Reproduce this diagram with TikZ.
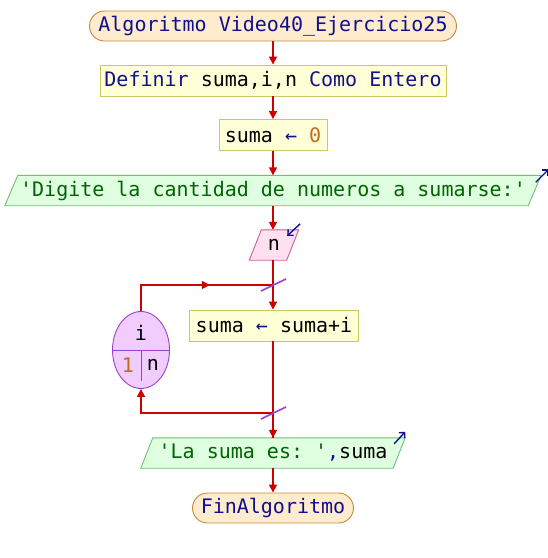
\documentclass[tikz,border=0pt]{standalone}
\usepackage{fontspec}
\setmonofont{DejaVu Sans Mono}
\usetikzlibrary{shapes.misc,shapes.geometric,arrows.meta,decorations.markings,backgrounds,calc}

\definecolor{flowred}{HTML}{CC0000}
\definecolor{kw}{HTML}{10108C}
\definecolor{num}{HTML}{C06A20}
\definecolor{str}{HTML}{006400}
\definecolor{termfill}{HTML}{FFEBCD}
\definecolor{termdraw}{HTML}{C8883A}
\definecolor{procfill}{HTML}{FFFFD8}
\definecolor{procdraw}{HTML}{C8C864}
\definecolor{outfill}{HTML}{E0FFE0}
\definecolor{outdraw}{HTML}{70C070}
\definecolor{infill}{HTML}{FFE0F0}
\definecolor{indraw}{HTML}{C8609A}
\definecolor{loopfill}{HTML}{F0CCFF}
\definecolor{loopdraw}{HTML}{9A40D0}

% parallelogram behind a rectangular node: name, slant, fill, border
\newcommand\slantbox[4]{%
  \begin{scope}[on background layer]
    \draw[draw=#4, fill=#3, line width=0.9pt]
      ([xshift=-#2]#1.south west) -- ([xshift=#2]#1.north west) --
      ([xshift=#2]#1.north east) -- ([xshift=-#2]#1.south east) -- cycle;
  \end{scope}}

\begin{document}
\begin{tikzpicture}[x=1pt,y=-1pt,
  every node/.style={font=\fontsize{20}{24}\selectfont\ttfamily, inner sep=0pt},
  term/.style={rounded rectangle, draw=termdraw, fill=termfill, line width=0.9pt, minimum height=30},
  proc/.style={rectangle, draw=procdraw, fill=procfill, line width=0.9pt, minimum height=31},
  io/.style={rectangle, minimum height=30},
  loopnode/.style={ellipse, draw=loopdraw, fill=loopfill, line width=0.9pt},
  flow/.style={draw=flowred, line width=1.6pt},
  tip/.style={-{Triangle[length=8pt,width=8pt]}},
  midtip/.style={postaction={decorate}, decoration={markings,
      mark=at position #1 with {\arrow{Triangle[length=8pt,width=8pt]}}}},
  icon/.style={draw=kw, line width=1.4pt, -{Straight Barb[length=4pt,width=8pt]}},
  slash/.style={draw=loopdraw, line width=1.6pt},
]
\useasboundingbox (0,0) rectangle (548,558);

% blocks of the main sequence
\node[term, minimum width=367] (start) at (273,26) {\textcolor{kw}{Algoritmo Video40\_Ejercicio25}};
\node[proc, minimum width=346] (def) at (273,80.5) {\textcolor{kw}{Definir} suma,i,n \textcolor{kw}{Como Entero}};
\node[proc, minimum width=108] (init) at (273,135) {suma \textcolor{kw}{←} \textcolor{num}{0}};
\node[io, minimum width=523] (prompt) at (273,190.5) {\textcolor{str}{'Digite la cantidad de numeros a sumarse:'}};
\slantbox{prompt}{6.5}{outfill}{outdraw}
\node[io, minimum width=37] (readn) at (274,245) {n};
\slantbox{readn}{6}{infill}{indraw}
\node[proc, minimum width=169] (body) at (274,325.5) {suma \textcolor{kw}{←} suma+i};
\node[io, minimum width=252] (out) at (273,453) {\textcolor{str}{'La suma es: '}\textcolor{kw}{,}suma};
\slantbox{out}{6}{outfill}{outdraw}
\node[term, minimum width=161] (stop) at (273,508) {\textcolor{kw}{FinAlgoritmo}};

% counting loop header
\node[loopnode, minimum width=57, minimum height=77] (loop) at (141,350) {};
\draw[draw=loopdraw, line width=0.9pt] (loop.west) -- (loop.east);
\draw[draw=loopdraw, line width=0.9pt] (loop.center) -- ++(0,31);
\node (lvar) at (141,333) {i};
\node (lfrom) at (128,365) {\textcolor{num}{1}};
\node (lto) at (153,365) {n};

% icons on input/output blocks
\draw[icon] ($(prompt.north east)+(1,7)$) -- ($(prompt.north east)+(14,-6)$);
\draw[icon] ($(out.north east)+(-5,6)$) -- ($(out.north east)+(6,-6)$);
\draw[icon] ($(readn.north east)+(7.5,-6)$) -- ($(readn.north east)+(-5.5,6)$);

% connectors
\draw[flow,tip] (start.south) -- (start.south |- def.north);
\draw[flow,tip] (def.south) -- (def.south |- init.north);
\draw[flow,tip] (init.south) -- (init.south |- prompt.north);
\draw[flow,tip] (prompt.south -| init.south) -- (init.south |- readn.north);
\coordinate (jt) at (273,285);
\coordinate (jb) at (273,413);
\draw[flow,tip] (readn.south -| jt) -- (jt |- body.north);
\draw[flow] (body.south -| jt) -- (jt |- out.north);
\draw[flow,tip] (jb) -- (jt |- out.north);
\draw[flow,midtip=0.6] (loop.north) |- (jt);
\draw[flow,tip] (jb) -| (loop.south);
\draw[flow,tip] (out.south -| jt) -- (jt |- stop.north);

% loop junction marks
\draw[slash] ($(jt)+(-12,6)$) -- ($(jt)+(13,-6)$);
\draw[slash] ($(jb)+(-12,6)$) -- ($(jb)+(13,-6)$);
\end{tikzpicture}
\end{document}
